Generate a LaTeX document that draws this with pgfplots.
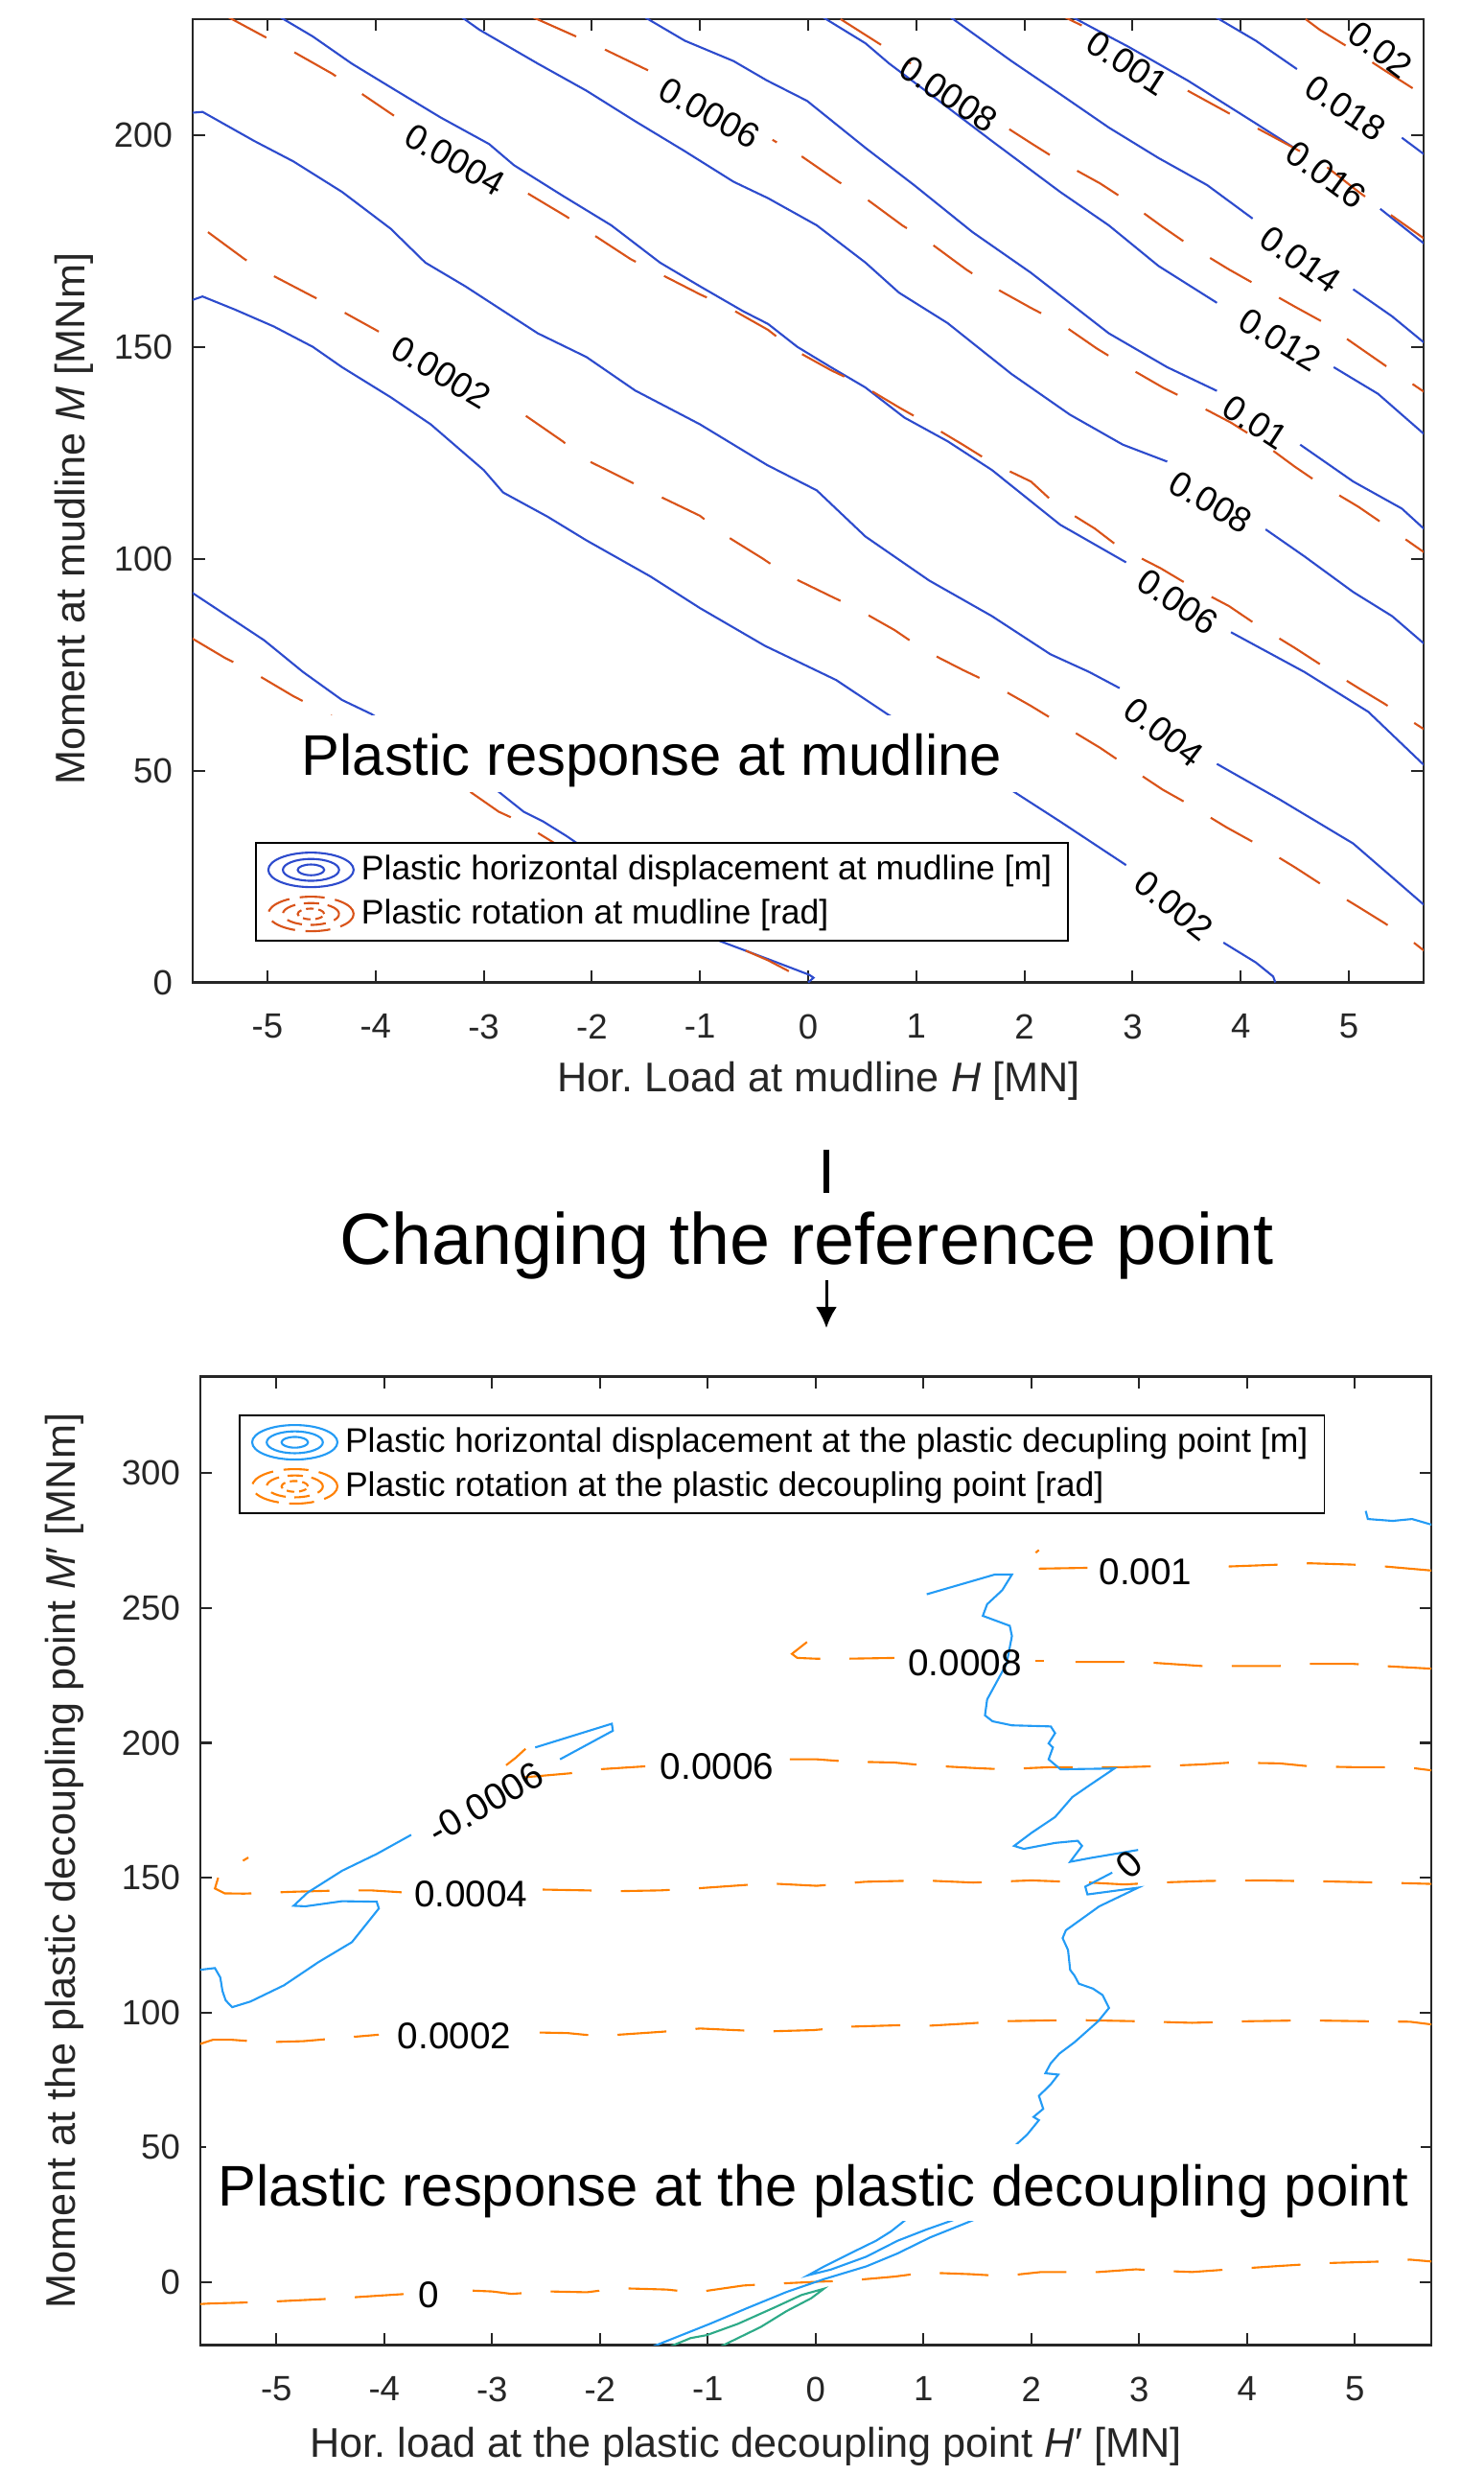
\documentclass[border=0pt]{standalone}
\usepackage{fontspec}
\setmainfont{Liberation Sans}
\usepackage{pgfplots}
\pgfplotsset{compat=1.18}
\usetikzlibrary{arrows.meta}
\frenchspacing

\definecolor{tblue}{RGB}{45,75,205}
\definecolor{tred}{RGB}{217,83,25}
\definecolor{bblue}{RGB}{35,155,245}
\definecolor{borange}{RGB}{255,128,0}
\definecolor{bgreen}{RGB}{45,170,135}

\newcommand{\clabA}{\fontsize{10.5}{12}\selectfont}
\newcommand{\clabB}{\fontsize{11}{13}\selectfont}

\pgfplotsset{
  mech/.style={
    scale only axis, anchor=south west, width=128.4mm,
    axis line style={black!85, line width=0.6pt},
    tick style={black!85, line width=0.6pt},
    major tick length=1.25mm, tick align=inside,
    xtick={-5,...,5},
    xticklabels={-5,-4,-3,-2,-1,0,1,2,3,4,5},
    ticklabel style={font=\fontsize{10.4}{12}\selectfont, text=black!85},
    xticklabel style={yshift=-2.07mm},
    yticklabel style={xshift=-0.87mm},
    label style={font=\fontsize{12.3}{14}\selectfont, text=black!85},
    /pgf/number format/assume math mode=true,
    legend cell align=left,
  },
  tb/.style={color=tblue, line width=0.6pt},
  tr/.style={color=tred, line width=0.6pt, dash pattern=on 5mm off 3.3mm},
  bb/.style={color=bblue, line width=0.6pt},
  bo/.style={color=borange, line width=0.6pt, dash pattern=on 5.1mm off 3.05mm},
  bg/.style={color=bgreen, line width=0.6pt},
  solidicon/.style={legend image code/.code={
    \draw (0.445cm,0cm) ellipse [x radius=0.445cm, y radius=0.18cm];
    \draw (0.445cm,0cm) ellipse [x radius=0.293cm, y radius=0.114cm];
    \draw (0.445cm,0cm) ellipse [x radius=0.138cm, y radius=0.056cm];
    \path (0.91cm,0cm);}},
  dashicon/.style={legend image code/.code={
    \draw[dash pattern=on 2.6mm off 1.1mm] (0.445cm,0cm) ellipse [x radius=0.445cm, y radius=0.18cm];
    \draw[dash pattern=on 1.6mm off 0.9mm] (0.445cm,0cm) ellipse [x radius=0.293cm, y radius=0.114cm];
    \draw[dash pattern=on 0.8mm off 0.5mm] (0.445cm,0cm) ellipse [x radius=0.138cm, y radius=0.056cm];
    \path (0.91cm,0cm);}},
}

\begin{document}
\begin{tikzpicture}
\useasboundingbox (0,0) rectangle (154.8mm,258.1mm);

% ---------------- top: mudline ----------------
\begin{axis}[mech,
  at={(20.1mm,155.65mm)}, height=100.45mm,
  xmin=-5.691, xmax=5.691, ymin=0, ymax=227.5,
  ytick={0,50,100,150,200},
  xlabel={Hor. Load at mudline \textit{H} [MN]},
  ylabel={Moment at mudline \textit{M} [MNm]},
  xlabel style={at={(rel axis cs:0.5085,-0.1135)}, anchor=base},
  ylabel style={at={(rel axis cs:-0.0961,0.481)}, anchor=center},
  legend style={at={(rel axis cs:0.0506,0.0423)}, anchor=south west,
    draw=black, line width=0.5pt, fill=white,
    font=\fontsize{10.1}{12}\selectfont, inner xsep=1.2mm, inner ysep=0.5mm,
    row sep=0pt, nodes={inner xsep=0.5mm, inner ysep=0.75mm}},
]
\addlegendimage{tb, solidicon}
\addlegendentry{Plastic horizontal displacement at mudline [m]}
\addlegendimage{tr, dashicon}
\addlegendentry{Plastic rotation at mudline [rad]}

% displacement contours
\addplot[tb] coordinates {(-5.70,92.1) (-5.35,86.2) (-5.03,80.8) (-4.67,73.3) (-4.31,66.7) (-4.04,63.4) (-3.46,54.3) (-2.88,45.4) (-2.63,40.3) (-2.45,38) (-2.23,34.5) (-1.52,22) (-0.82,9.8) (-0.37,5.5) (0.01,1.8) (0.05,1.1) (0.0,0)};
\addplot[tb] coordinates {(-5.69,161.2) (-5.60,162) (-5.30,158.9) (-4.94,154.9) (-4.58,150.1) (-4.31,145.3) (-3.86,138.2) (-3.49,131.8) (-3.0,121) (-2.82,115.7) (-2.41,110) (-2.05,104.4) (-1.46,95.9) (-1.0,88.4) (-0.4,79.5) (0.26,71.4) (0.73,63.4) (1.30,54.5) (1.88,45.4) (2.33,38) (2.94,27.7)};
\addplot[tb] coordinates {(3.84,9.4) (4.14,4.7) (4.30,1.4) (4.32,0)};
\addplot[tb] coordinates {(-5.69,205.4) (-5.60,205.6) (-5.12,198.7) (-4.76,193.9) (-4.31,186.7) (-3.86,178) (-3.54,170) (-3.17,164.4) (-2.50,153.3) (-2.05,147.7) (-1.60,139.8) (-1.0,131.8) (-0.38,122.2) (0.08,116.2) (0.53,105.3) (1.12,94.9) (1.70,86.5) (2.24,77.5) (2.60,73.3) (2.88,69.5)};
\addplot[tb] coordinates {(3.78,51.6) (4.36,43.2) (5.04,32.8) (5.70,18.2)};
\addplot[tb] coordinates {(-4.95,229) (-4.58,223.4) (-4.22,217) (-3.86,211.4) (-3.40,204.3) (-2.95,198) (-2.72,193) (-2.27,185.8) (-1.82,178.8) (-1.37,170) (-1.0,164.4) (-0.6,158.5) (-0.37,155.5) (-0.10,150.1) (0.21,145.3) (0.53,140.5) (0.89,133.4) (1.29,127.8) (1.70,121) (2.33,108.1) (2.94,99.2)};
\addplot[tb] coordinates {(3.91,82.7) (4.59,73.3) (5.18,63.9) (5.70,51.2)};
\addplot[tb] coordinates {(-3.26,229) (-3.04,225) (-2.5,217) (-2.05,210.6) (-1.6,203.4) (-1.14,196.3) (-0.69,189.1) (-0.37,185.2) (0.08,178.8) (0.53,170) (0.84,162.9) (1.29,155.7) (1.88,143.7) (2.42,134.1) (2.91,127) (3.32,123)};
\addplot[tb] coordinates {(4.23,107) (4.59,100.6) (5.04,92.2) (5.4,86.5) (5.70,79.9)};
\addplot[tb] coordinates {(-1.58,229) (-1.14,222.4) (-0.69,217.6) (-0.38,213) (-0.01,208.2) (0.53,197.1) (0.98,188.3) (1.52,177.2) (2.06,167.6) (2.78,153.3) (3.32,145.3) (3.78,139.7)};
\addplot[tb] coordinates {(4.55,127) (5.04,118.3) (5.49,111.9) (5.70,107)};
\addplot[tb] coordinates {(0.07,229) (0.53,221.8) (0.75,217) (1.21,208.2) (1.70,198.7) (2.33,186.7) (2.78,178.8) (3.24,169.2) (3.78,160.5)};
\addplot[tb] coordinates {(4.86,145.3) (5.27,139) (5.70,129.4)};
\addplot[tb] coordinates {(1.26,229) (1.88,217.6) (2.33,209.8) (2.78,201.9) (3.24,194.7) (3.69,188.3) (4.11,180.4)};
\addplot[tb] coordinates {(5.04,163.7) (5.40,157.3) (5.70,151)};
\addplot[tb] coordinates {(2.37,229) (2.70,224.5) (2.96,221) (3.51,213) (4.15,202.7) (4.50,197)};
\addplot[tb] coordinates {(5.29,182.7) (5.70,174.4)};
\addplot[tb] coordinates {(3.70,229) (4.14,222.4) (4.52,215.7)};
\addplot[tb] coordinates {(5.49,199.5) (5.70,195.5)};

% rotation contours
\addplot[tr] coordinates {(-5.70,81.3) (-5.39,76.6) (-5.17,73.8) (-4.76,67.6) (-4.44,63.4) (-3.80,54) (-3.13,45.1) (-2.86,40.3) (-2.63,37.6) (-2.48,35) (-1.65,22) (-0.82,10.2) (-0.37,5.2) (0.02,0)};
\addplot[tr] coordinates {(-5.55,177.2) (-5.21,170.8) (-4.94,166.8) (-4.58,162) (-4.31,158.5) (-3.97,153.7)};
\addplot[tr] coordinates {(-2.61,133.8) (-2.27,127.8) (-2.05,123.4) (-1.64,118.2) (-1.39,115) (-1.0,110.2) (-0.78,105.8) (-0.42,100.1) (-0.20,96.3) (0.21,91.2) (0.44,88.4) (0.80,83.2) (1.07,78.5) (1.43,73.8) (1.70,70.5) (2.06,65.3) (2.33,61.1) (2.70,55.4) (2.92,51.6) (3.28,45.5) (3.51,42.2) (3.87,36.6) (4.14,32.8) (4.50,27.2) (4.73,23.4) (5.09,17.8) (5.33,14) (5.58,9.8) (5.70,7.4)};
\addplot[tr] coordinates {(-5.40,228.5) (-5.03,223.4) (-4.76,219.8) (-4.40,214.6) (-4.17,210.6) (-3.83,204.7)};
\addplot[tr] coordinates {(-2.59,186.3) (-2.23,180.8) (-2.0,176.8) (-1.64,170.8) (-1.39,167.6) (-1.0,162.5) (-0.73,159.3) (-0.37,154.1) (-0.15,149.7) (0.21,144.6) (0.48,141.3) (0.84,135.8) (1.09,132.2) (1.43,127) (1.70,122.7) (2.06,118.3) (2.29,112.9) (2.65,107.2) (2.87,102.9) (3.26,97.8) (3.51,94) (3.89,88.9) (4.11,85.1) (4.50,79) (4.73,75.2) (5.09,69.5) (5.33,65.8) (5.70,59.7)};
\addplot[tr] coordinates {(-2.55,228) (-2.11,223) (-1.87,220.2) (-1.48,215.4)};
\addplot[tr] coordinates {(-0.33,199) (-0.29,198.4)};
\addplot[tr] coordinates {(-0.06,195.1) (0.28,189.1) (0.53,185.2) (0.87,178.8) (1.12,174.8) (1.46,168.4) (1.70,164.4) (2.06,159.3) (2.33,155.7) (2.67,149.7) (2.92,145.8) (3.28,140.5) (3.53,137.3) (3.91,132.2) (4.16,128.2) (4.50,121.8) (4.73,117.8) (5.09,112.3) (5.33,108.1) (5.70,101.5)};
\addplot[tr] coordinates {(0.30,227.5) (0.75,220.2) (0.95,217)};
\addplot[tr] coordinates {(1.86,201.5) (2.08,197.9) (2.33,193.9) (2.70,188.7) (2.94,184.7) (3.28,178.4) (3.53,174) (3.89,168.4) (4.14,164.8) (4.50,159.6) (4.75,156.1) (5.11,149.7) (5.33,145.8) (5.70,139.4)};
\addplot[tr] coordinates {(2.33,228.5) (2.53,226)};
\addplot[tr] coordinates {(3.51,210.6) (3.91,205) (4.14,201.9) (4.52,196.7) (4.77,193.1) (5.09,186.7) (5.33,182.3) (5.70,175.6)};
\addplot[tr] coordinates {(4.60,227.5) (4.73,225) (5.09,219.4) (5.33,215.4) (5.70,209.4)};

% contour labels
\node[font=\clabA, rotate=-31, inner sep=0pt] at (axis cs:-3.394,144.1) {0.0002};
\node[font=\clabA, rotate=-30, inner sep=0pt] at (axis cs:-3.267,194.3) {0.0004};
\node[font=\clabA, rotate=-29, inner sep=0pt] at (axis cs:-0.915,205.4) {0.0006};
\node[font=\clabA, rotate=-33.5, inner sep=0pt] at (axis cs:1.296,209.8) {0.0008};
\node[font=\clabA, rotate=-33, inner sep=0pt] at (axis cs:2.952,217.1) {0.001};
\node[font=\clabA, rotate=-38.5, inner sep=0pt] at (axis cs:3.38,18.1) {0.002};
\node[font=\clabA, rotate=-37.7, inner sep=0pt] at (axis cs:3.29,59.1) {0.004};
\node[font=\clabA, rotate=-33.7, inner sep=0pt] at (axis cs:3.417,89.9) {0.006};
\node[font=\clabA, rotate=-30.3, inner sep=0pt] at (axis cs:3.723,113.4) {0.008};
\node[font=\clabA, rotate=-33, inner sep=0pt] at (axis cs:4.138,132.2) {0.01};
\node[font=\clabA, rotate=-31, inner sep=0pt] at (axis cs:4.364,151.8) {0.012};
\node[font=\clabA, rotate=-35, inner sep=0pt] at (axis cs:4.553,170.7) {0.014};
\node[font=\clabA, rotate=-36, inner sep=0pt] at (axis cs:4.79,190.7) {0.016};
\node[font=\clabA, rotate=-34, inner sep=0pt] at (axis cs:4.97,206.5) {0.018};
\node[font=\clabA, rotate=-37, inner sep=0pt] at (axis cs:5.29,220.3) {0.02};

\node[fill=white, font=\fontsize{17}{20}\selectfont, inner xsep=1.5mm, inner ysep=0pt,
  text height=6.3mm, text depth=1.7mm, anchor=base] at (axis cs:-1.445,48.82) {Plastic response at mudline};
\end{axis}

% ---------------- middle annotation ----------------
\draw[line width=0.6mm] (86.2mm,138.2mm) -- (86.2mm,133.7mm);
\node[font=\fontsize{21.5}{25}\selectfont, anchor=base, inner sep=0pt] at (84.16mm,126.27mm) {Changing the reference point};
\draw[line width=0.3mm, -{Latex[length=2.2mm, width=2.2mm]}] (86.2mm,124.6mm) -- (86.2mm,119.6mm);

% ---------------- bottom: plastic decoupling point ----------------
\begin{axis}[mech,
  at={(20.9mm,13.55mm)}, height=101.0mm,
  xmin=-5.705, xmax=5.708, ymin=-23.28, ymax=335.83,
  ytick={0,50,100,150,200,250,300},
  xlabel={Hor. load at the plastic decoupling point \textit{H}′ [MN]},
  ylabel={Moment at the plastic decoupling point \textit{M}′ [MNm]},
  xlabel style={at={(rel axis cs:0.443,-0.1163)}, anchor=base},
  ylabel style={at={(rel axis cs:-0.1101,0.5)}, anchor=center},
  legend style={at={(rel axis cs:0.0312,0.9607)}, anchor=north west,
    draw=black, line width=0.5pt, fill=white,
    font=\fontsize{10.1}{12}\selectfont, inner xsep=1.2mm, inner ysep=0.5mm,
    row sep=0pt, nodes={inner xsep=0.5mm, inner ysep=0.75mm}},
]
\addlegendimage{bb, solidicon}
\addlegendentry{Plastic horizontal displacement at the plastic decupling point [m]}
\addlegendimage{bo, dashicon}
\addlegendentry{Plastic rotation at the plastic decoupling point [rad]}

% rotation contours
\addplot[bo] coordinates {(-5.72,-8.1) (-5.63,-7.9) (-5.11,-7.3) (-4.49,-6.1) (-3.79,-4.3)};
\addplot[bo] coordinates {(-3.18,-3.1) (-3.0,-3.4) (-2.82,-4.3) (-2.47,-3.4) (-2.12,-3.7) (-1.82,-2.2) (-1.38,-2.7) (-1.12,-3.8) (-0.67,-1.2) (-0.41,-0.6) (0.02,0.2) (0.30,0.6) (0.73,2.1) (1.02,3.6) (1.44,3.0) (1.74,2.3) (2.09,3.8) (2.62,3.8) (2.97,4.8) (3.23,4.2) (3.49,3.8) (3.84,4.8) (4.28,6.0) (4.72,7.1) (5.25,7.7) (5.51,8.4) (5.71,7.7)};
\addplot[bo] coordinates {(-5.72,88.2) (-5.59,89.9) (-5.41,89.9) (-5.11,89.0) (-4.75,89.4) (-4.40,90.6) (-4.05,91.8)};
\addplot[bo] coordinates {(-2.56,92.6) (-2.30,92.4) (-2.12,91.7) (-1.86,91.7) (-1.42,92.9) (-1.07,94.1) (-0.81,93.6) (-0.46,93.0) (-0.02,93.5) (0.34,94.8) (0.77,95.3) (1.04,95.1) (1.39,95.9) (1.74,96.8) (2.18,97.1) (2.44,97.2) (2.97,96.8) (3.49,96.2) (4.02,96.8) (4.55,97.1) (5.07,96.8) (5.51,96.6) (5.71,95.6)};
\addplot[bo] coordinates {(-5.31,156.3) (-5.26,157.5)};
\addplot[bo] coordinates {(-5.54,150) (-5.57,146) (-5.48,144.2) (-5.30,144.1) (-4.84,144.8) (-4.39,145.3) (-4.12,145.3) (-3.84,144.6)};
\addplot[bo] coordinates {(-2.53,145.6) (-2.12,145.3) (-1.85,145) (-1.44,145.3) (-1.12,146) (-0.69,147.2) (-0.44,147.9) (0.01,147) (0.46,148.5) (1.0,149) (1.46,148.2) (2.0,149) (2.54,148.2) (2.86,147.5) (3.18,148.2) (3.63,148.8) (4.13,149) (4.76,148.6) (5.26,148.2) (5.71,147.7)};
\addplot[bo] coordinates {(-2.69,197.8) (-2.78,194.5) (-2.87,191.7)};
\addplot[bo] coordinates {(-2.71,187.2) (-2.28,188.7) (-2.01,190.2) (-1.58,191.3)};
\addplot[bo] coordinates {(-0.24,193.9) (0.01,193.9) (0.28,193.1) (0.73,192.7) (1.0,191.7) (1.46,190.7) (1.73,190.2) (2.18,191) (2.45,191) (2.86,191) (3.13,191.3) (3.58,192) (3.85,192.7) (4.30,192.4) (4.58,191.3) (4.98,191) (5.30,191) (5.53,190.7) (5.71,189.8)};
\addplot[bo] coordinates {(-0.08,237.4) (-0.22,233) (-0.17,231.5) (0.01,231.2) (0.28,231.2) (0.73,231.5)};
\addplot[bo] coordinates {(2.04,230.4) (2.12,230.4)};
\addplot[bo] coordinates {(2.41,230) (2.86,230) (3.13,229.7) (3.58,228.5) (3.85,228.5) (4.30,228.5) (4.58,229.3) (4.98,229.3) (5.26,228.5) (5.71,227.5)};
\addplot[bo] coordinates {(2.04,270.5) (2.07,271.5)};
\addplot[bo] coordinates {(2.07,264.6) (2.52,264.9)};
\addplot[bo] coordinates {(3.83,265.4) (4.30,266.1) (4.58,266.6) (4.98,266.1) (5.28,265.4) (5.71,263.9)};

% displacement contours
\addplot[bb] coordinates {(-5.72,115.8) (-5.57,116.5) (-5.52,113) (-5.50,108) (-5.47,104.5) (-5.41,102) (-5.24,104.1) (-4.93,110.1) (-4.61,118.7) (-4.30,126.1) (-4.05,138.6) (-4.07,141.1) (-4.39,141.3) (-4.73,139.4) (-4.84,139.6) (-4.71,144.5) (-4.39,152.6) (-4.07,158.8) (-3.75,165.9)};
\addplot[bb] coordinates {(-2.60,198.3) (-1.89,207.1) (-1.88,204.5) (-2.37,193.9)};
\addplot[bb] coordinates {(1.03,255.1) (1.66,262.4) (1.82,262.4) (1.73,256.6) (1.59,251.4) (1.55,247.1) (1.80,243.4) (1.82,239.6) (1.77,229.3) (1.59,216.1) (1.57,210.2) (1.64,208) (1.82,206.5) (2.18,206.1) (2.22,203.6) (2.16,199.8) (2.20,198.3) (2.16,193.9) (2.27,190.2) (2.77,190.5) (2.54,184.3) (2.38,179.9) (2.22,172.5) (2.0,166.6) (1.84,161.8) (1.93,160.7) (2.22,162.9) (2.43,163.7) (2.47,161.8) (2.36,155.9) (2.56,157.4) (2.99,160.3)};
\addplot[bb] coordinates {(2.75,151.9) (2.50,146.7) (2.52,143.8) (2.99,146.3) (2.63,139.4) (2.32,130.5) (2.29,127.6) (2.34,123.2) (2.36,115.8) (2.40,113.7) (2.44,110.7) (2.57,108.9) (2.66,106.5) (2.72,101.7) (2.62,96.8) (2.40,89.0) (2.26,84.8) (2.18,81.2) (2.13,77.5) (2.25,77.0) (2.18,73.4) (2.07,69.1) (2.11,64.3) (2.02,61.3) (2.07,60.1) (1.96,54.7) (1.85,50.7) (1.75,46)};
\addplot[bb] coordinates {(1.89,30) (1.44,22.7) (1.06,16.6) (0.76,10.7) (0.47,5.9) (0.08,1.2) (-0.27,-3.6) (-0.63,-9.5) (-0.98,-15.4) (-1.52,-24)};
\addplot[bb] coordinates {(1.05,30) (0.82,22.7) (0.70,18.9) (0.56,15.4) (0.32,10.7) (0.08,5.9) (-0.07,2.6) (0.14,4.7) (0.47,9.5) (0.76,15.4) (1.03,19.6) (1.25,22.7) (1.77,30)};
\addplot[bb] coordinates {(5.10,286) (5.12,283) (5.35,282.3) (5.53,283) (5.72,280.8)};
\addplot[bg] coordinates {(-1.36,-24) (-1.16,-20.7) (-1.01,-19.6) (-0.72,-15.4) (-0.39,-9.5) (-0.13,-4.7) (0.076,-2.4) (-0.04,-5.9) (-0.27,-10.7) (-0.51,-16.6) (-0.89,-24)};

% contour labels
\node[font=\clabB, inner sep=0pt] at (axis cs:-3.59,-4.6) {0};
\node[font=\clabB, inner sep=0pt] at (axis cs:-3.35,91.2) {0.0002};
\node[font=\clabB, inner sep=0pt] at (axis cs:-3.196,143.8) {0.0004};
\node[font=\clabB, inner sep=0pt] at (axis cs:-0.914,191.2) {0.0006};
\node[font=\clabB, inner sep=0pt] at (axis cs:1.384,229.6) {0.0008};
\node[font=\clabB, inner sep=0pt] at (axis cs:3.06,263.5) {0.001};
\node[font=\clabB, rotate=30, inner sep=0pt] at (axis cs:-3.06,177.8) {-0.0006};
\node[font=\clabB, rotate=41, inner sep=0pt] at (axis cs:2.904,154.8) {0};

\node[fill=white, font=\fontsize{17}{20}\selectfont, inner xsep=1.2mm, inner ysep=0pt,
  text height=6.46mm, text depth=1.54mm, anchor=base] at (axis cs:-0.02,28.2) {Plastic response at the plastic decoupling point};
\end{axis}
\end{tikzpicture}
\end{document}
